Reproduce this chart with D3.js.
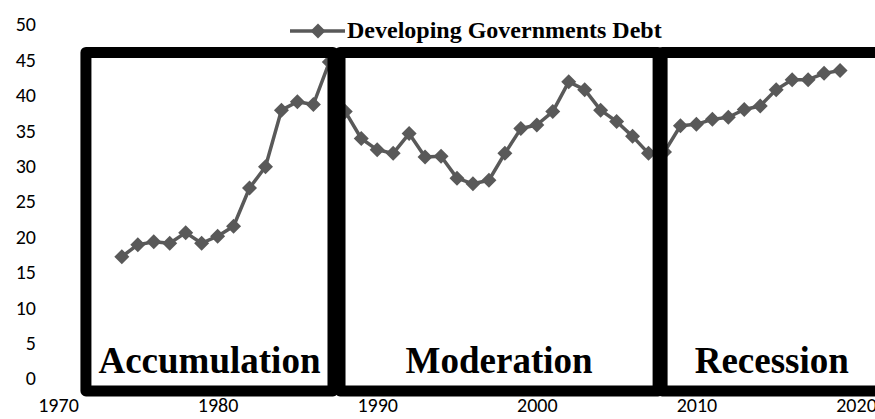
<!DOCTYPE html>
<html>
<head>
<meta charset="utf-8">
<script src="https://cdn.jsdelivr.net/npm/d3@7"></script>
<style>
  body { margin: 0; background: #fff; }
  svg { display: block; }
</style>
</head>
<body>
<svg width="875" height="419"></svg>
<script>
"use strict";

// debt as % of GDP, developing economies
var years = d3.range(1974, 2020);
var debt = [17.2, 18.9, 19.3, 19.1, 20.6, 19.1, 20.1, 21.5, 26.9, 29.9,
  37.9, 39.1, 38.7, 44.7, 37.7, 33.9, 32.3, 31.8, 34.6, 31.3,
  31.4, 28.3, 27.5, 28.0, 31.8, 35.3, 35.8, 37.7, 41.9, 40.8,
  37.9, 36.3, 34.2, 31.8, 32.0, 35.7, 35.9, 36.6, 36.9, 38.0,
  38.5, 40.8, 42.2, 42.2, 43.1, 43.5];

var xTicks = [1970, 1980, 1990, 2000, 2010, 2020];
var yTicks = [0, 5, 10, 15, 20, 25, 30, 35, 40, 45, 50];

var periodNames = ["Accumulation", "Moderation", "Recession"];
var periodStart = [1971.75, 1987.67, 2007.85];
var periodEnd = [1987.23, 2007.6, 2021.6];

var seriesName = "Developing Governments Debt";

var svg = d3.select("svg");

var x = d3.scaleLinear().domain([1970, 2020]).range([58, 856]);
var y = d3.scaleLinear().domain([0, 50]).range([378.5, 24.5]);

var grey = "#595959";
var tickFont = "Calibri, Carlito, 'Open Sans', sans-serif";

// axes: labels only
var yAxis = svg.append("g")
  .attr("transform", "translate(36,0)")
  .call(d3.axisLeft(y).tickValues(yTicks).tickSize(0).tickPadding(0));
yAxis.select(".domain").remove();

var xAxis = svg.append("g")
  .attr("transform", "translate(0,398)")
  .call(d3.axisBottom(x).tickValues(xTicks).tickSize(0).tickPadding(0).tickFormat(d3.format("d")));
xAxis.select(".domain").remove();

svg.selectAll(".tick text")
  .style("font-family", tickFont)
  .style("font-size", "20px")
  .attr("fill", "#000");

function diamond(r) {
  return "M0," + (-r) + "L" + r + ",0L0," + r + "L" + (-r) + ",0Z";
}

var pts = years.map(function (yr, i) { return { year: yr, value: debt[i] }; });

svg.append("path")
  .datum(pts)
  .attr("fill", "none")
  .attr("stroke", grey)
  .attr("stroke-width", 3.5)
  .attr("stroke-linejoin", "round")
  .attr("d", d3.line()
    .x(function (d) { return x(d.year); })
    .y(function (d) { return y(d.value); }));

svg.append("g")
  .selectAll("path")
  .data(pts)
  .enter().append("path")
  .attr("transform", function (d) { return "translate(" + x(d.year) + "," + y(d.value) + ")"; })
  .attr("d", diamond(7.5))
  .attr("fill", grey);

// period boxes
var boxTop = y(46.05), boxBottom = y(-1.75);

svg.append("g")
  .selectAll("rect")
  .data(periodNames)
  .enter().append("rect")
  .attr("x", function (d, i) { return x(periodStart[i]); })
  .attr("y", boxTop)
  .attr("width", function (d, i) { return x(periodEnd[i]) - x(periodStart[i]); })
  .attr("height", boxBottom - boxTop)
  .attr("fill", "none")
  .attr("stroke", "#000")
  .attr("stroke-width", 11)
  .attr("stroke-linejoin", "round");

svg.append("g")
  .selectAll("text")
  .data(periodNames)
  .enter().append("text")
  .attr("x", function (d, i) { return (x(periodStart[i]) + x(periodEnd[i])) / 2; })
  .attr("y", 373)
  .attr("text-anchor", "middle")
  .style("font-family", "'Times New Roman', 'Liberation Serif', serif")
  .style("font-weight", "bold")
  .style("font-size", "37px")
  .text(function (d) { return d; });

// legend
var legend = svg.append("g").attr("transform", "translate(290,31)");
legend.append("line")
  .attr("x1", 0).attr("x2", 55)
  .attr("stroke", grey)
  .attr("stroke-width", 3.5);
legend.append("path")
  .attr("transform", "translate(28,0)")
  .attr("d", diamond(7.5))
  .attr("fill", grey);
legend.append("text")
  .attr("x", 57)
  .attr("y", 7)
  .style("font-family", "'Times New Roman', 'Liberation Serif', serif")
  .style("font-weight", "bold")
  .style("font-size", "24px")
  .text(seriesName);
</script>
</body>
</html>
